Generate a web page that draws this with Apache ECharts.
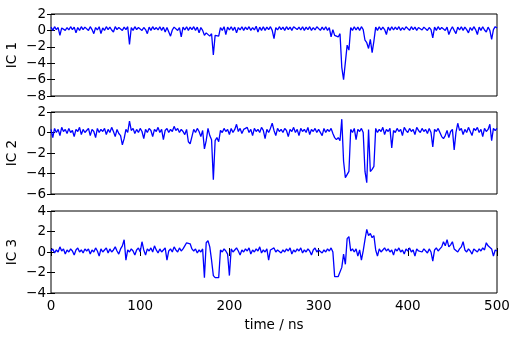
<!DOCTYPE html>
<html>
<head>
<meta charset="utf-8">
<script src="https://cdn.jsdelivr.net/npm/echarts@6/dist/echarts.min.js"></script>
<style>html,body{margin:0;padding:0;background:#fff}#c{width:517px;height:337px}</style>
</head>
<body>
<div id="c"></div>
<script>
// time step between samples (ns)
var timeStep = 2;
var xTicks = [0, 100, 200, 300, 400, 500];
var panelNames = ['IC 1', 'IC 2', 'IC 3'];
var yRanges = [[-8, 2], [-6, 2], [-4, 4]];

var ic1 = [
0.4,0.0,0.45,0.1,0.35,-0.6,0.3,0.45,0.0,0.35,
0.05,0.45,0.1,0.4,-0.3,0.35,0.0,0.45,0.1,0.4,
0.4,0.0,0.45,0.1,-0.4,0.35,0.05,0.45,-0.4,0.3,
0.0,0.45,0.1,0.4,0.05,-0.2,0.45,0.1,0.35,0.5,
0.0,0.4,0.1,0.45,-1.7,0.35,0.0,0.45,0.1,0.35,
0.45,0.0,0.35,0.1,-0.4,0.4,0.0,0.45,0.1,0.35,
0.05,0.45,0.0,0.4,-0.2,0.35,0.45,-0.7,0.05,0.4,
0.45,0.0,0.35,-0.8,0.4,0.05,0.45,0.0,0.4,0.1,
0.45,0.0,0.4,-0.3,0.35,0.0,-0.6,-0.3,-0.5,-0.7,
-0.4,-3.0,-0.6,-0.4,-0.7,0.35,0.0,0.45,-0.5,0.4,
0.05,0.45,0.0,0.4,-0.3,0.35,0.05,0.45,0.0,0.4,
0.1,0.45,0.0,0.35,0.05,0.5,-0.2,0.4,0.0,0.45,
0.0,0.4,0.1,0.45,0.0,-1.0,0.35,0.05,0.45,0.1,
0.4,0.0,0.45,0.1,0.4,0.0,0.45,0.55,0.1,0.4,
0.05,0.45,0.0,0.4,0.1,0.45,0.0,0.35,0.05,0.45,
0.35,0.0,0.4,0.05,0.45,0.0,0.35,-0.8,0.1,-0.6,
-0.5,-0.8,-0.4,-4.5,-6.0,-6.2,-1.8,-2.4,0.35,0.0,
0.45,0.05,0.4,0.0,0.45,0.1,-1.2,-1.5,-2.2,-1.1,
-2.7,-1.3,0.4,0.0,0.45,0.05,0.4,0.1,-0.5,0.4,
0.0,0.45,0.05,0.4,0.1,0.45,0.0,0.35,0.05,0.45,
0.4,0.0,0.45,0.1,0.4,0.0,0.35,0.5,0.05,0.4,
0.45,0.0,0.35,0.1,-0.9,0.4,0.0,0.45,0.1,0.35,
0.45,0.0,0.4,-0.5,0.05,0.45,0.0,-0.4,0.4,0.05,
0.45,0.0,0.4,0.1,-0.3,0.35,0.0,0.45,0.1,-0.5,
0.4,0.0,0.45,0.05,-0.2,0.4,0.0,-1.1,0.1,0.45,
0.3
];

var ic2 = [
0.3,-0.5,0.4,0.0,0.3,-0.3,0.5,0.1,0.3,-0.1,
0.4,0.0,0.2,-0.4,0.3,0.1,0.5,-0.2,0.3,0.0,
0.2,0.4,-0.3,0.3,0.1,-0.5,0.4,0.0,0.3,0.1,
0.4,-0.2,0.3,0.0,0.5,0.1,-0.4,0.3,-0.1,-0.3,
-1.2,-0.6,0.3,0.0,1.1,0.2,0.4,-0.1,0.3,0.0,
0.4,0.1,-0.6,0.3,0.0,0.4,0.2,-0.4,0.3,0.1,
0.5,0.0,0.3,-0.7,0.2,0.4,0.0,0.3,0.1,0.6,
0.2,0.4,0.0,0.3,0.1,-0.2,0.3,-0.9,-1.1,-0.4,
0.3,0.0,0.4,0.1,-0.4,0.2,-1.6,-0.8,0.4,-0.3,
-0.7,-4.6,-0.8,-0.5,-0.9,0.2,0.0,0.4,0.1,0.3,
-0.2,0.4,0.0,0.3,0.8,0.1,0.4,-0.1,0.3,0.2,
0.5,0.0,0.3,-0.3,0.4,0.1,0.3,0.0,0.5,0.2,
-0.6,0.3,0.0,0.4,0.9,0.2,-0.3,0.4,0.1,0.3,
0.0,0.4,0.2,-0.4,0.3,0.1,0.5,0.0,0.3,-0.3,
0.4,0.1,0.3,0.0,0.5,-0.2,0.3,0.1,0.4,0.0,
0.3,0.2,-0.3,0.4,0.0,0.3,0.1,0.4,-0.1,-0.5,
-0.7,-0.5,-0.8,1.3,-2.8,-4.4,-4.5,-3.8,0.3,0.0,
0.4,-0.7,0.3,0.1,0.4,0.0,-3.8,-4.9,0.3,-3.8,
-3.6,-3.3,0.4,0.0,0.3,0.1,0.5,-0.2,0.3,0.1,
0.4,-1.5,0.2,0.0,0.4,0.1,0.3,-0.3,0.5,0.2,
0.0,0.4,0.1,0.3,-0.2,0.5,0.2,0.0,0.4,0.1,
0.3,-0.1,0.4,0.0,-1.4,0.3,0.1,0.4,0.0,-0.4,
-0.6,-0.3,0.2,-0.5,0.1,0.3,-1.7,0.0,0.9,0.2,
0.4,-0.2,0.3,0.0,0.5,0.1,-0.3,0.4,0.2,0.5,
0.0,0.3,-0.4,0.4,0.1,0.3,0.8,-0.8,0.4,0.2,
0.4
];

var ic3 = [
0.1,0.3,-0.1,0.2,0.0,0.5,0.1,0.3,-0.2,0.2,
0.0,0.3,0.1,-0.3,0.2,0.4,0.0,0.2,-0.1,0.3,
0.1,0.3,-0.2,0.2,0.0,0.4,0.1,-0.4,0.3,0.0,
0.2,0.4,-0.1,0.3,0.0,0.2,0.5,0.1,-0.2,0.3,
0.6,1.2,-0.8,0.2,0.0,0.3,0.1,-0.3,0.2,0.4,
0.0,1.0,0.2,-0.3,0.3,0.1,0.4,0.0,0.6,0.2,
-0.1,0.3,0.0,0.2,0.4,-0.8,0.1,0.3,0.0,0.5,
0.2,0.0,0.4,0.1,0.3,0.6,0.9,1.0,0.8,0.3,
0.1,0.3,-0.1,0.2,0.0,0.3,-2.5,0.9,1.1,0.5,
-0.8,-2.3,-2.5,-2.4,-2.5,0.2,0.0,0.3,0.1,-0.2,
-2.3,0.3,0.0,0.2,0.4,0.1,-0.3,0.2,0.0,0.3,
0.1,0.4,-0.2,0.2,0.0,0.3,0.1,0.5,-0.1,0.2,
0.0,0.3,-0.8,0.2,0.1,0.4,0.0,0.2,0.3,-0.1,
0.2,0.0,0.3,0.1,0.4,-0.2,0.2,0.0,0.3,0.1,
0.4,-0.1,0.2,0.0,0.3,0.1,-0.3,0.2,0.4,0.0,
0.2,0.3,-0.1,0.2,0.0,0.3,0.1,0.4,0.0,-2.4,
-2.3,-2.4,-2.5,-1.5,-0.2,-1.2,1.3,1.5,0.1,0.3,
0.0,0.3,-0.4,0.2,-0.8,0.1,1.2,2.2,1.6,1.8,
1.4,1.6,0.2,-0.4,0.3,0.0,0.2,0.4,0.1,0.3,
0.0,0.2,-0.3,0.3,0.1,0.4,0.0,0.2,-0.2,0.3,
0.1,0.4,0.0,0.2,-0.4,0.3,0.1,0.2,0.0,0.3,
0.2,-0.1,0.3,0.0,-0.9,0.2,0.4,0.1,0.3,0.5,
1.0,0.6,1.2,0.5,0.7,1.0,0.3,0.2,0.0,0.3,
0.5,1.0,0.2,0.0,0.3,0.1,-0.2,0.3,0.2,0.0,
0.3,0.1,0.4,0.2,0.9,0.6,0.5,0.3,-0.4,0.2,
0.1
];

var allSeries = [ic1, ic2, ic3];
function pairs(vals) {
  var out = [];
  for (var i = 0; i < vals.length; i++) out.push([i * timeStep, vals[i]]);
  return out;
}

var FONT = 'DejaVu Sans';
var FS = 13.5;
function fmtMinus(v) { return String(v).replace('-', '\u2212'); }

var tops = [14, 112, 211];
var H = 82;
var grids = [], xAxes = [], yAxes = [], series = [];
for (var p = 0; p < 3; p++) {
  grids.push({left: 51, width: 446, top: tops[p], height: H, show: true,
    outerBoundsMode: 'none', containLabel: false,
    borderColor: '#000', borderWidth: 1, backgroundColor: 'transparent'});
  var last = (p === 2);
  var xmin = xTicks[0], xmax = xTicks[xTicks.length - 1];
  var xi = xTicks[1] - xTicks[0];
  xAxes.push({type: 'value', gridIndex: p, min: xmin, max: xmax, interval: xi, position: 'bottom',
    axisLine: {show: false}, splitLine: {show: false},
    axisTick: {show: last, inside: true, length: 4, lineStyle: {color: '#000'}},
    axisLabel: {show: last, color: '#000', fontFamily: FONT, fontSize: FS, margin: 6},
    name: last ? 'time / ns' : '', nameLocation: 'middle', nameGap: 25, nameMoveOverlap: false,
    nameTextStyle: {color: '#000', fontFamily: FONT, fontSize: FS}});
  xAxes.push({type: 'value', gridIndex: p, min: xmin, max: xmax, interval: xi, position: 'top',
    axisLine: {show: false}, splitLine: {show: false},
    axisTick: {show: last, inside: true, length: 4, lineStyle: {color: '#000'}},
    axisLabel: {show: false}});
  var r = yRanges[p];
  yAxes.push({type: 'value', gridIndex: p, min: r[0], max: r[1], interval: 2, position: 'left',
    axisLine: {show: false}, splitLine: {show: false},
    axisTick: {show: true, inside: true, length: 4, lineStyle: {color: '#000'}},
    axisLabel: {color: '#000', fontFamily: FONT, fontSize: FS, margin: 5, formatter: fmtMinus},
    name: panelNames[p], nameLocation: 'middle', nameGap: 32, nameRotate: 90, nameMoveOverlap: false,
    nameTextStyle: {color: '#000', fontFamily: FONT, fontSize: FS}});
  yAxes.push({type: 'value', gridIndex: p, min: r[0], max: r[1], interval: 2, position: 'right',
    axisLine: {show: false}, splitLine: {show: false},
    axisTick: {show: true, inside: true, length: 4, lineStyle: {color: '#000'}},
    axisLabel: {show: false}});
  series.push({type: 'line', xAxisIndex: 2 * p, yAxisIndex: 2 * p, data: pairs(allSeries[p]),
    showSymbol: false, symbol: 'none', animation: false, clip: true, sampling: null,
    lineStyle: {color: '#0000ff', width: 1.3}});
}

var chart = echarts.init(document.getElementById('c'), null, {renderer: 'canvas'});
chart.setOption({animation: false, backgroundColor: '#fff', grid: grids, xAxis: xAxes, yAxis: yAxes, series: series});
</script>
</body>
</html>
